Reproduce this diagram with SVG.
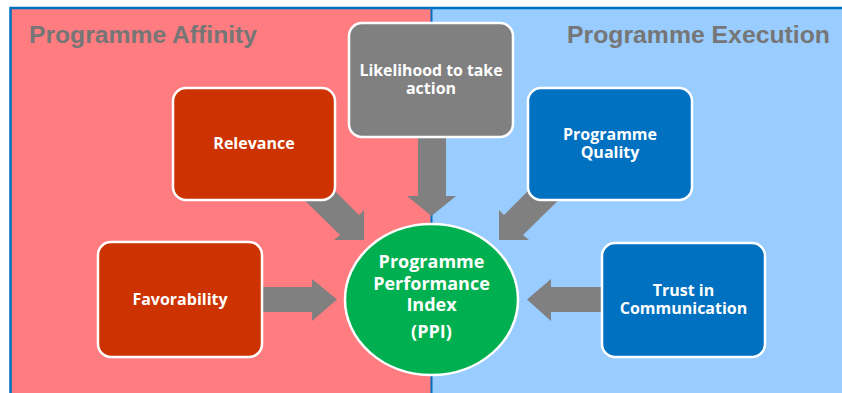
<svg xmlns="http://www.w3.org/2000/svg" width="842" height="393" viewBox="0 0 842 393">
  <style>
    .hdr { font-family: "Liberation Sans", Arial, sans-serif; font-weight: bold; font-size: 23px; fill: #767676; }
    .lbl { font-family: "Open Sans", "Noto Sans", sans-serif; font-weight: bold; font-size: 16px; fill: #ffffff; text-anchor: middle; }
    .ppi { font-family: "Open Sans", "Noto Sans", sans-serif; font-weight: bold; font-size: 18px; fill: #ffffff; text-anchor: middle; }
    .box { stroke: #ffffff; stroke-width: 2.5; }
    .red { fill: #cc3300; }
    .grey { fill: #808080; }
    .blue { fill: #0070c0; }
    .arrow { fill: #808080; }
  </style>

  <!-- background panels -->
  <rect x="0" y="0" width="842" height="393" fill="#ffffff"/>
  <rect x="10.5" y="8" width="421" height="390" fill="#ff7c80"/>
  <rect x="431.5" y="8" width="415" height="390" fill="#99ccff"/>
  <path d="M10.5 398 V8 H846" fill="none" stroke="#0070c0" stroke-width="2.5"/>
  <line x1="431.5" y1="8" x2="431.5" y2="393" stroke="#0070c0" stroke-width="2"/>

  <text class="hdr" x="29" y="43" textLength="228" lengthAdjust="spacingAndGlyphs">Programme Affinity</text>
  <text class="hdr" x="567" y="43" textLength="263" lengthAdjust="spacingAndGlyphs">Programme Execution</text>

  <!-- connectors -->
  <g id="connectors">
    <!-- Relevance -> PPI -->
    <polygon class="arrow" points="310,166 290,186 340,235 334,240 364,240 364,210 359,215"/>
    <!-- Likelihood -> PPI -->
    <polygon class="arrow" points="418,130 446,130 446,196 456,196 431.5,216 407,196 418,196"/>
    <!-- Programme Quality -> PPI -->
    <polygon class="arrow" points="553,166 573,186 523,235 529,240 499,240 499,210 504,215"/>
    <!-- Favorability -> PPI -->
    <polygon class="arrow" points="255,287 312,287 312,279 337,299.5 312,321 312,312 255,312"/>
    <!-- Trust in Communication -> PPI -->
    <polygon class="arrow" points="608,287 551,287 551,279 527,299.5 551,321 551,312 608,312"/>
  </g>

  <g id="relevance">
    <rect class="box red" x="173" y="88" width="162" height="112" rx="13"/>
    <text class="lbl" x="254" y="149">Relevance</text>
  </g>

  <g id="likelihood">
    <rect class="box grey" x="349" y="23" width="164" height="114" rx="13"/>
    <text class="lbl" x="431" y="75.5" textLength="143" lengthAdjust="spacingAndGlyphs">Likelihood to take</text>
    <text class="lbl" x="431" y="94">action</text>
  </g>

  <g id="quality">
    <rect class="box blue" x="528" y="88" width="164" height="112" rx="13"/>
    <text class="lbl" x="610" y="139.5">Programme</text>
    <text class="lbl" x="610" y="158">Quality</text>
  </g>

  <g id="favorability">
    <rect class="box red" x="98" y="242" width="164" height="115" rx="13"/>
    <text class="lbl" x="180" y="305">Favorability</text>
  </g>

  <g id="trust">
    <rect class="box blue" x="602" y="243" width="163" height="114" rx="13"/>
    <text class="lbl" x="683.5" y="295.5">Trust in</text>
    <text class="lbl" x="683.5" y="314">Communication</text>
  </g>

  <g id="ppi">
    <ellipse cx="431.5" cy="299.5" rx="86.5" ry="75.5" fill="#00b050" stroke="#ffffff" stroke-width="2.5"/>
    <text class="ppi" x="431.5" y="268">Programme</text>
    <text class="ppi" x="431.5" y="289.5">Performance</text>
    <text class="ppi" x="431.5" y="311">Index</text>
    <text class="ppi" x="431.5" y="338">(PPI)</text>
  </g>
</svg>
